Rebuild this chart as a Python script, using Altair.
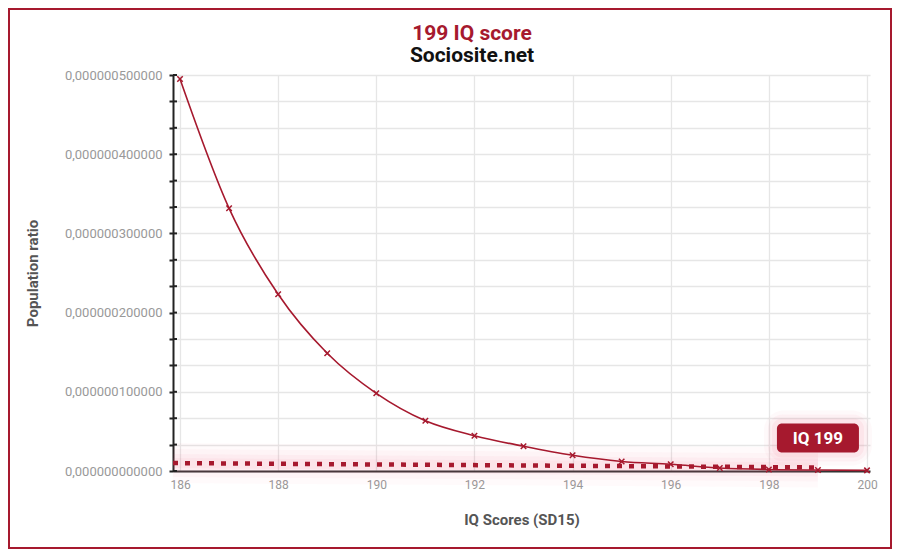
import altair as alt

# ---- data ----
iq = [186, 187, 188, 189, 190, 191, 192, 193, 194, 195, 196, 197, 198, 199, 200]
ratio = [4.95e-7, 3.317e-7, 2.231e-7, 1.486e-7, 0.981e-7, 0.635e-7, 0.446e-7,
         0.312e-7, 0.198e-7, 0.12e-7, 0.085e-7, 0.038e-7, 0.019e-7, 0.012e-7, 0.008e-7]

marker_iq = [185.857, 199]
marker_ratio = [1.0e-8, 0.45e-8]

label_iq = [199]
label_ratio = [4.17e-8]
label_text = ["IQ 199"]

title_text = "199 IQ score"
subtitle_text = "Sociosite.net"

x_ticks = [186, 188, 190, 192, 194, 196, 198, 200]
y_ticks = [0, 3.3333e-8, 6.6667e-8, 1e-7, 1.33333e-7, 1.66667e-7, 2e-7, 2.33333e-7,
           2.66667e-7, 3e-7, 3.33333e-7, 3.66667e-7, 4e-7, 4.33333e-7, 4.66667e-7, 5e-7]

RED = "#a6192e"
GLOW = "#f06080"

curve_df = alt.Data(values=[{"iq": a, "ratio": b} for a, b in zip(iq, ratio)])
mark_df = alt.Data(values=[{"iq": a, "ratio": b} for a, b in zip(marker_iq, marker_ratio)])
label_df = alt.Data(values=[{"iq": a, "ratio": b, "t": t} for a, b, t in zip(label_iq, label_ratio, label_text)])
tick_df = alt.Data(values=[{"ratio": v} for v in y_ticks])
one_df = alt.Data(values=[{}])
title_df = alt.Data(values=[{"t": title_text}])
subtitle_df = alt.Data(values=[{"t": subtitle_text}])

x_enc = alt.X(
    "iq:Q",
    scale=alt.Scale(domain=[185.857, 200.061], nice=False, zero=False),
    axis=alt.Axis(
        values=x_ticks, format="d", title="IQ Scores (SD15)",
        grid=True, gridColor="#e6e6e6", gridWidth=1.3,
        domainColor="#333333", domainWidth=2, ticks=False,
        labelColor="#999999", labelFont="Roboto", labelFontSize=12, labelPadding=8,
        titleFont="Roboto", titleFontSize=15, titleFontWeight="bold", titleColor="#555555",
        titlePadding=22,
    ),
)
y_enc = alt.Y(
    "ratio:Q",
    scale=alt.Scale(domain=[0, 5e-7], nice=False),
    axis=alt.Axis(
        values=y_ticks,
        labelExpr="abs(datum.value*1e7 - round(datum.value*1e7)) < 0.001 ? replace(format(datum.value, '.12f'), '.', ',') : ''",
        labelOverlap=False,
        grid=True, gridColor="#e6e6e6", gridWidth=1.3,
        domainColor="#222222", domainWidth=2,
        tickColor="#222222", tickWidth=2, tickSize=4,
        labelColor="#999999", labelFont="Roboto", labelFontSize=13, labelPadding=7,
        title="Population ratio", titleFont="Roboto", titleFontSize=15,
        titleFontWeight="bold", titleColor="#555555", titleX=-133, titleY=198,
    ),
)

border = alt.Chart(one_df).mark_rect(fill=None, stroke=RED, strokeWidth=2).encode(
    x=alt.value(-164), x2=alt.value(718), y=alt.value(-66), y2=alt.value(473)
)

title_mark = alt.Chart(title_df).mark_text(
    color=RED, font="Roboto", fontSize=21, fontWeight="bold", baseline="alphabetic", align="center"
).encode(x=alt.value(299), y=alt.value(-35), text="t:N")
subtitle_mark = alt.Chart(subtitle_df).mark_text(
    color="#111111", font="Roboto", fontSize=21, fontWeight="bold", baseline="alphabetic", align="center"
).encode(x=alt.value(299), y=alt.value(-13), text="t:N")

glows = [
    alt.Chart(mark_df).mark_line(color=GLOW, strokeWidth=w, opacity=o, strokeCap="butt").encode(x=x_enc, y=y_enc)
    for w, o in [(40, 0.03), (28, 0.04), (18, 0.05), (10, 0.06)]
]

curve = alt.Chart(curve_df).mark_line(color=RED, strokeWidth=1.6, interpolate="monotone").encode(x=x_enc, y=y_enc)
points = alt.Chart(curve_df).mark_point(
    shape="M-1,-1L1,1M1,-1L-1,1", size=30, filled=False, color=RED, strokeWidth=1.5, opacity=1
).encode(x=x_enc, y=y_enc)

dotted = alt.Chart(mark_df).mark_line(
    color=RED, strokeWidth=4.5, strokeDash=[5, 7], strokeCap="butt"
).encode(x=x_enc, y=y_enc)

label_glows = [
    alt.Chart(label_df).mark_rect(width=wd, height=ht, cornerRadius=cr, color=GLOW, opacity=o).encode(x=x_enc, y=y_enc)
    for wd, ht, cr, o in [(108, 55, 20, 0.04), (100, 47, 15, 0.06), (92, 39, 10, 0.08)]
]
label_box = alt.Chart(label_df).mark_rect(width=82, height=29, cornerRadius=5, color=RED).encode(x=x_enc, y=y_enc)
label_txt = alt.Chart(label_df).mark_text(
    color="white", font="Roboto", fontSize=17, fontWeight="bold", baseline="middle", dy=1
).encode(x=x_enc, y=y_enc, text="t:N")

inner_ticks = alt.Chart(tick_df).mark_rule(color="#222222", strokeWidth=2).encode(
    x=alt.value(0), x2=alt.value(4), y=y_enc
)

chart = alt.layer(
    border, title_mark, subtitle_mark, *glows, curve, points, dotted,
    *label_glows, label_box, label_txt, inner_ticks
).properties(
    width=697, height=396,
    padding={"left": 165, "top": 67, "right": 22, "bottom": 78},
    autosize=alt.AutoSizeParams(type="none"),
    background="white",
).configure_view(stroke=None)

chart.save("out.html", embed_options={"renderer": "svg", "actions": False})
